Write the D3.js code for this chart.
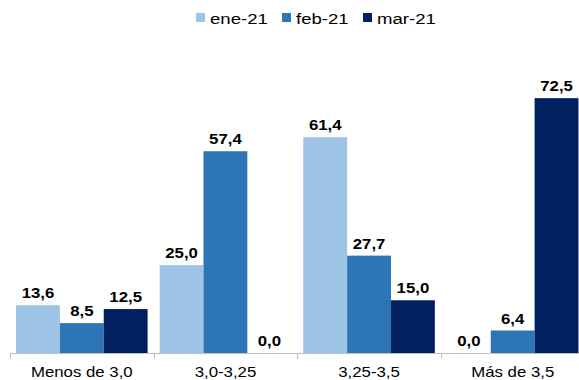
<!DOCTYPE html>
<html>
<head>
<meta charset="utf-8">
<script src="https://cdn.jsdelivr.net/npm/d3@7"></script>
<style>
  html, body { margin: 0; padding: 0; background: #fff; overflow: hidden; }
  svg { display: block; font-family: Arial, "Liberation Sans", sans-serif; }
</style>
</head>
<body>
<svg id="chart" width="579" height="380"></svg>
<script>
// Distribution of expectations by range, three months
const categories = ["Menos de 3,0", "3,0-3,25", "3,25-3,5", "Más de 3,5"];
const seriesNames = ["ene-21", "feb-21", "mar-21"];
const ene21 = [13.6, 25.0, 61.4, 0.0];
const feb21 = [8.5, 57.4, 27.7, 6.4];
const mar21 = [12.5, 0.0, 15.0, 72.5];
const colors = ["#9DC3E6", "#2E75B6", "#002060"];

const seriesValues = [ene21, feb21, mar21];
const rows = categories.map((c, i) => ({
  category: c,
  values: seriesNames.map((s, j) => ({ series: s, idx: j, value: seriesValues[j][i] }))
}));

const svg = d3.select("#chart");
const baseY = 353;
const stretch = 1.2; // wide text rendering

const x0 = d3.scaleBand()
  .domain(categories)
  .range([10, 584.5])
  .paddingInner(0.084)
  .paddingOuter(0.042);

const x1 = d3.scaleBand()
  .domain(seriesNames)
  .range([0, x0.bandwidth()]);

const y = d3.scaleLinear()
  .domain([0, 80])
  .range([baseY, baseY - 80 * 3.515]);

const fmt = v => d3.format(".1f")(v).replace(".", ",");

// Bars
const groups = svg.append("g")
  .selectAll("g")
  .data(rows)
  .join("g")
  .attr("transform", d => `translate(${x0(d.category)},0)`);

groups.selectAll("rect")
  .data(d => d.values)
  .join("rect")
  .attr("x", d => x1(d.series))
  .attr("width", x1.bandwidth())
  .attr("y", d => y(d.value))
  .attr("height", d => y(0) - y(d.value))
  .attr("fill", d => colors[d.idx]);

// Value labels
groups.selectAll("text")
  .data(d => d.values)
  .join("text")
  .attr("transform", d => `translate(${x1(d.series) + x1.bandwidth() / 2},${y(d.value) - 7}) scale(${stretch},1)`)
  .attr("text-anchor", "middle")
  .attr("font-size", 14)
  .attr("font-weight", "bold")
  .attr("fill", "#000")
  .text(d => fmt(d.value));

// Category axis
const axisG = svg.append("g");
axisG.append("line")
  .attr("x1", 10).attr("x2", 584.5)
  .attr("y1", baseY + 0.5).attr("y2", baseY + 0.5)
  .attr("stroke", "#BFBFBF").attr("stroke-width", 1);

const step = x0.step();
const tickXs = d3.range(categories.length + 1).map(i => 10 + i * step);
axisG.selectAll("line.tick")
  .data(tickXs)
  .join("line")
  .attr("class", "tick")
  .attr("x1", d => Math.round(d) + 0.5).attr("x2", d => Math.round(d) + 0.5)
  .attr("y1", baseY).attr("y2", baseY + 6)
  .attr("stroke", "#BFBFBF").attr("stroke-width", 1);

axisG.selectAll("text")
  .data(categories)
  .join("text")
  .attr("transform", d => `translate(${x0(d) + x0.bandwidth() / 2},377) scale(${stretch},1)`)
  .attr("text-anchor", "middle")
  .attr("font-size", 14)
  .attr("fill", "#000")
  .text(d => d);

// Legend
const legendX = [196, 282, 363];
const legend = svg.append("g")
  .selectAll("g")
  .data(seriesNames)
  .join("g")
  .attr("transform", (d, i) => `translate(${legendX[i]},0)`);

legend.append("rect")
  .attr("x", 0).attr("y", 13)
  .attr("width", 9).attr("height", 9)
  .attr("fill", (d, i) => colors[i]);

legend.append("text")
  .attr("transform", `translate(14,23.5) scale(${stretch},1)`)
  .attr("font-size", 15.5)
  .attr("fill", "#000")
  .text(d => d);
</script>
</body>
</html>
